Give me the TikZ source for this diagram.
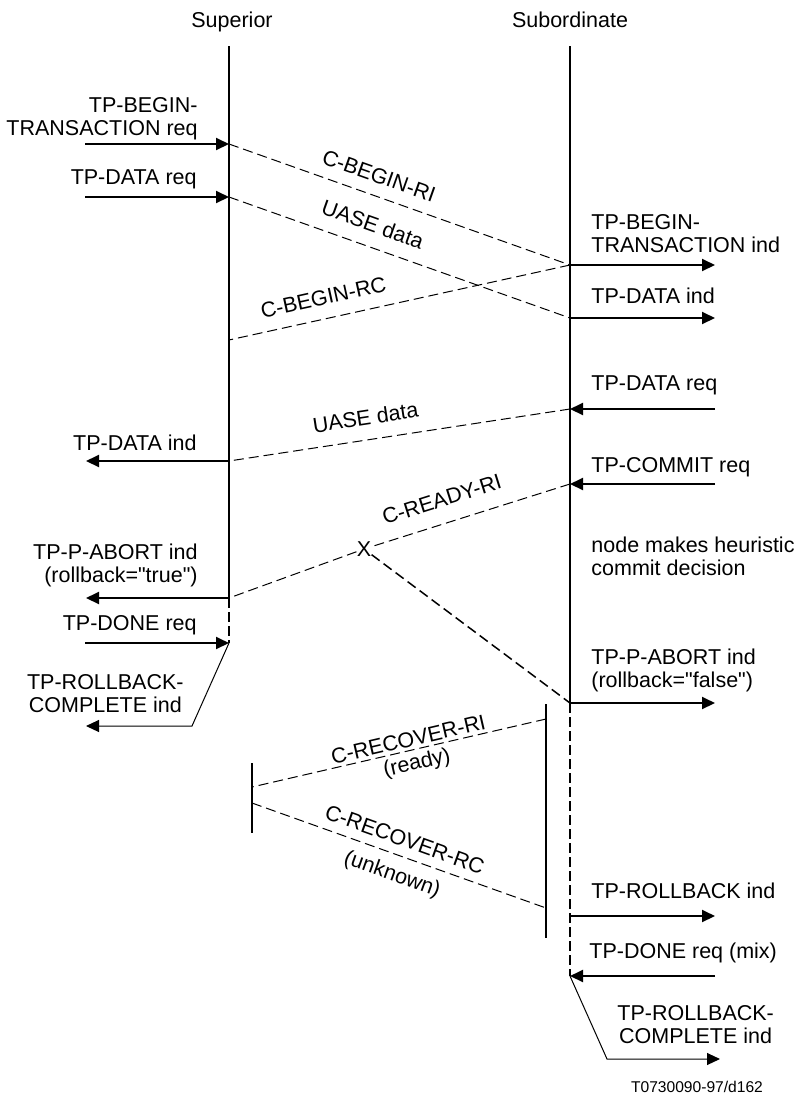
\documentclass[tikz,border=0pt]{standalone}
\usepackage{fontspec}
\setmainfont{Liberation Sans}
\usetikzlibrary{positioning, arrows.meta}
\tikzset{
    lifeline/.style={
        line width=1pt
    },
    lifedash/.style={
        line width=1pt,
        dash pattern=on 5pt off 2pt
    },
    message/.style={
        line width=0.5pt,
        dash pattern=on 5pt off 2.5pt
    },
    lostmsg/.style={
        line width=0.75pt,
        dash pattern=on 5pt off 2.5pt
    },
    primitive/.style={
        line width=1pt,
        -{Triangle[length=6.5pt, width=6pt]}
    },
    bentprim/.style={
        line width=0.5pt,
        -{Triangle[length=6.5pt, width=6pt]}
    },
    recbar/.style={
        line width=1pt
    },
    primtext/.style={
        inner sep=0pt,
        font=\fontsize{10.75}{11.5}\selectfont
    },
    msgtext/.style={
        inner sep=0.5pt,
        sloped,
        font=\fontsize{10.75}{11.5}\selectfont
    },
    figref/.style={
        inner sep=0pt,
        font=\fontsize{7.8}{9}\selectfont
    }
}

\begin{document}
\begin{tikzpicture}[x=0.5pt, y=-0.5pt]
\useasboundingbox (0,0) rectangle (795,1099);

%---------------- Lifelines ----------------

\coordinate (supTop) at (229,46);
\coordinate (supEnd) at (229,598);
\coordinate (supDone) at (229,643);
\coordinate (subTop) at (570,46);
\coordinate (subEnd) at (570,703);
\coordinate (subDone) at (570,976);

\node[primtext, anchor=base] (supName) at (232,27) {Superior};
\node[primtext, anchor=base] (subName) at (570,27) {Subordinate};

\draw[lifeline] (supTop) -- (supEnd);
\draw[lifedash] (supEnd) -- (supDone);
\draw[lifeline] (subTop) -- (subEnd);
\draw[lifedash] (subEnd) -- (subDone);

%---------------- Superior primitives ----------------

\coordinate (supBegin) at (229,144);
\coordinate (supBeginIn) at (85,144);
\coordinate (supData) at (229,197);
\coordinate (supDataIn) at (85,197);
\coordinate (supRC) at (229,340);
\coordinate (supDataInd) at (229,461);
\coordinate (supDataOut) at (86,461);
\coordinate (supAbortOut) at (86,598);
\coordinate (supDoneIn) at (85,643);
\coordinate (supBend) at (192,726);
\coordinate (supRbOut) at (86,726);

\draw[primitive] (supBeginIn) -- (supBegin);
\draw[primitive] (supDataIn) -- (supData);
\draw[primitive] (supDataInd) -- (supDataOut);
\draw[primitive] (supEnd) -- (supAbortOut);
\draw[primitive] (supDoneIn) -- (supDone);
\draw[bentprim] (supDone) -- (supBend) -- (supRbOut);

\node[primtext, anchor=base east, align=right] (tSupBegin) at (198,135) {TP-BEGIN-\\TRANSACTION req};
\node[primtext, anchor=base east] (tSupData) at (197,184) {TP-DATA req};
\node[primtext, anchor=base east] (tSupDataInd) at (197,450) {TP-DATA ind};
\node[primtext, anchor=base east, align=right] (tSupAbort) at (198,582) {TP-P-ABORT ind\\(rollback=\textquotedbl true\textquotedbl)};
\node[primtext, anchor=base east] (tSupDone) at (197,630) {TP-DONE req};
\node[primtext, anchor=base east, align=center] (tSupRb) at (184,712) {TP-ROLLBACK-\\COMPLETE ind};

%---------------- Subordinate primitives ----------------

\coordinate (subBegin) at (570,265);
\coordinate (subBeginOut) at (715,265);
\coordinate (subData) at (570,318);
\coordinate (subDataOut) at (715,318);
\coordinate (subDataReq) at (570,409);
\coordinate (subDataIn) at (715,409);
\coordinate (subCommit) at (570,484);
\coordinate (subCommitIn) at (715,484);
\coordinate (subAbortOut) at (715,703);
\coordinate (subRb) at (570,916);
\coordinate (subRbOut) at (715,916);
\coordinate (subDoneIn) at (715,976);
\coordinate (subBend) at (607,1059);
\coordinate (subRcOut) at (720,1059);

\draw[primitive] (subBegin) -- (subBeginOut);
\draw[primitive] (subData) -- (subDataOut);
\draw[primitive] (subDataIn) -- (subDataReq);
\draw[primitive] (subCommitIn) -- (subCommit);
\draw[primitive] (subEnd) -- (subAbortOut);
\draw[primitive] (subRb) -- (subRbOut);
\draw[primitive] (subDoneIn) -- (subDone);
\draw[bentprim] (subDone) -- (subBend) -- (subRcOut);

\node[primtext, anchor=base west, align=left] (tSubBegin) at (591,252) {TP-BEGIN-\\TRANSACTION ind};
\node[primtext, anchor=base west] (tSubData) at (591,303) {TP-DATA ind};
\node[primtext, anchor=base west] (tSubDataReq) at (591,390) {TP-DATA req};
\node[primtext, anchor=base west] (tSubCommit) at (591,472) {TP-COMMIT req};
\node[primtext, anchor=base west, align=left] (tSubHeur) at (591,575) {node makes heuristic\\commit decision};
\node[primtext, anchor=base west, align=left] (tSubAbort) at (591,687) {TP-P-ABORT ind\\(rollback=\textquotedbl false\textquotedbl)};
\node[primtext, anchor=base west] (tSubRb) at (591,898) {TP-ROLLBACK ind};
\node[primtext, anchor=base west] (tSubDone) at (589,958) {TP-DONE req (mix)};
\node[primtext, anchor=base west, align=center] (tSubRc) at (617,1043) {TP-ROLLBACK-\\COMPLETE ind};

%---------------- Protocol messages ----------------

\draw[message] (supBegin) -- node[msgtext, pos=0.42, above=5.5pt] (mBeginRI) {C-BEGIN-RI} (subBegin);
\draw[message] (supData) -- node[msgtext, pos=0.40, above=6.5pt] (mData1) {UASE data} (subData);
\draw[message] (subBegin) -- node[msgtext, pos=0.71, above=6pt] (mBeginRC) {C-BEGIN-RC} (supRC);
\draw[message] (subDataReq) -- node[msgtext, pos=0.59, above=6.5pt] (mData2) {UASE data} (supDataInd);

\node[primtext] (xmark) at (364,549) {X};
\draw[message] (subCommit) -- node[msgtext, pos=0.61, above=7.5pt] (mReadyRI) {C-READY-RI} (xmark);
\draw[message] (xmark) -- (supEnd);
\draw[lostmsg] (xmark) -- (subEnd);

%---------------- Recovery ----------------

\coordinate (supRecTop) at (252,763);
\coordinate (supRecBot) at (252,833);
\coordinate (subRecTop) at (546,704);
\coordinate (subRecBot) at (546,938);
\coordinate (subRecRI) at (546,719);
\coordinate (supRecRI) at (252,787);
\coordinate (supRecRC) at (252,803);
\coordinate (subRecRC) at (546,908);

\draw[recbar] (supRecTop) -- (supRecBot);
\draw[recbar] (subRecTop) -- (subRecBot);

\draw[message] (subRecRI) -- node[msgtext, pos=0.46, above=1pt] (mRecRI) {C-RECOVER-RI}
    node[msgtext, pos=0.45, below=1.5pt] (mReady) {(ready)} (supRecRI);
\draw[message] (supRecRC) -- node[msgtext, pos=0.5, above=4pt] (mRecRC) {C-RECOVER-RC}
    node[msgtext, pos=0.5, below=4.5pt] (mUnknown) {(unknown)} (subRecRC);

\node[figref, anchor=base] (figRef) at (697,1092) {T0730090-97/d162};

\end{tikzpicture}
\end{document}
